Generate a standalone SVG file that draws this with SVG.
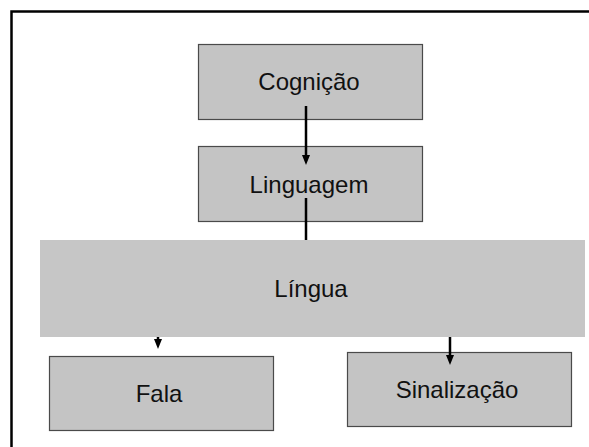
<svg xmlns="http://www.w3.org/2000/svg" width="589" height="447" viewBox="0 0 589 447">
  <style>
    .box { fill: #c4c4c4; stroke: #4a4a4a; stroke-width: 1.2; }
    .band { fill: #c6c6c6; stroke: none; }
    .label { font-family: "Liberation Sans", Arial, sans-serif; font-size: 24px; fill: #111; text-anchor: middle; }
    .conn { stroke: #000; stroke-width: 2.5; fill: none; }
  </style>
  <defs>
    <marker id="arrow" viewBox="0 0 10 8" refX="4" refY="4" markerWidth="10" markerHeight="8" markerUnits="userSpaceOnUse" orient="auto">
      <path d="M0,0 L10,4 L0,8 z" fill="#000"/>
    </marker>
  </defs>
  <rect width="589" height="447" fill="#fff"/>
  <rect id="frame" x="11.5" y="11.5" width="620" height="480" fill="none" stroke="#000" stroke-width="2.5"/>

  <g id="cognicao">
    <rect class="box" x="198.5" y="44.5" width="224" height="75"/>
    <text class="label" x="309" y="90">Cognição</text>
  </g>
  <g id="linguagem">
    <rect class="box" x="198.5" y="146.5" width="224" height="75"/>
    <text class="label" x="309" y="192.5">Linguagem</text>
  </g>
  <g id="lingua">
    <rect class="band" x="40" y="240" width="545" height="97"/>
    <text class="label" x="311" y="297">Língua</text>
  </g>
  <g id="fala">
    <rect class="box" x="49.5" y="356.5" width="224" height="74"/>
    <text class="label" x="159" y="402">Fala</text>
  </g>
  <g id="sinalizacao">
    <rect class="box" x="347.5" y="352.5" width="224" height="74"/>
    <text class="label" x="457" y="397.5">Sinalização</text>
  </g>

  <g id="connectors">
    <line class="conn" x1="306" y1="106" x2="306" y2="159" marker-end="url(#arrow)"/>
    <line class="conn" x1="306" y1="198" x2="306" y2="240"/>
    <line class="conn" x1="158" y1="337" x2="158" y2="343" marker-end="url(#arrow)"/>
    <line class="conn" x1="450" y1="337" x2="450" y2="359" marker-end="url(#arrow)"/>
  </g>
</svg>
